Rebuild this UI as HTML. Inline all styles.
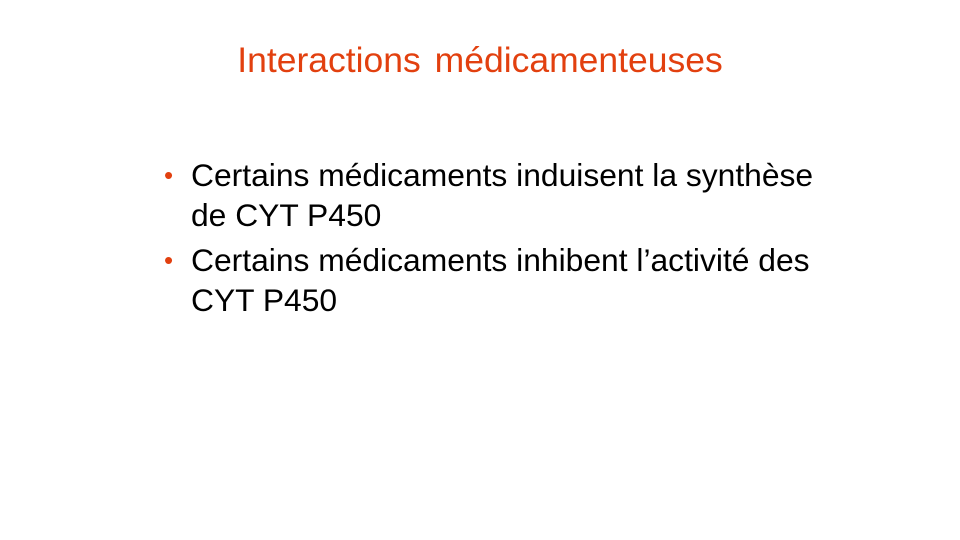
<!DOCTYPE html>
<html><head><meta charset="utf-8"><style>
body{margin:0;width:960px;height:540px;background:#fff;position:relative;overflow:hidden;font-family:"Liberation Sans",sans-serif}
.title{position:absolute;left:0;width:960px;top:40px;text-align:center;font-size:35.5px;color:#E2400F;word-spacing:4px}
.item{position:absolute;left:191px;font-size:31.8px;line-height:40px;color:#000;white-space:nowrap}
.bul{position:absolute;left:-27px;top:0;color:#E2400F;font-size:26px}
</style></head><body>
<div class="title">Interactions médicamenteuses</div>
<div class="item" style="top:155px"><span class="bul">•</span>Certains médicaments induisent la synthèse<br>de CYT P450</div>
<div class="item" style="top:240px"><span class="bul">•</span>Certains médicaments inhibent l’activité des<br>CYT P450</div>
</body></html>
